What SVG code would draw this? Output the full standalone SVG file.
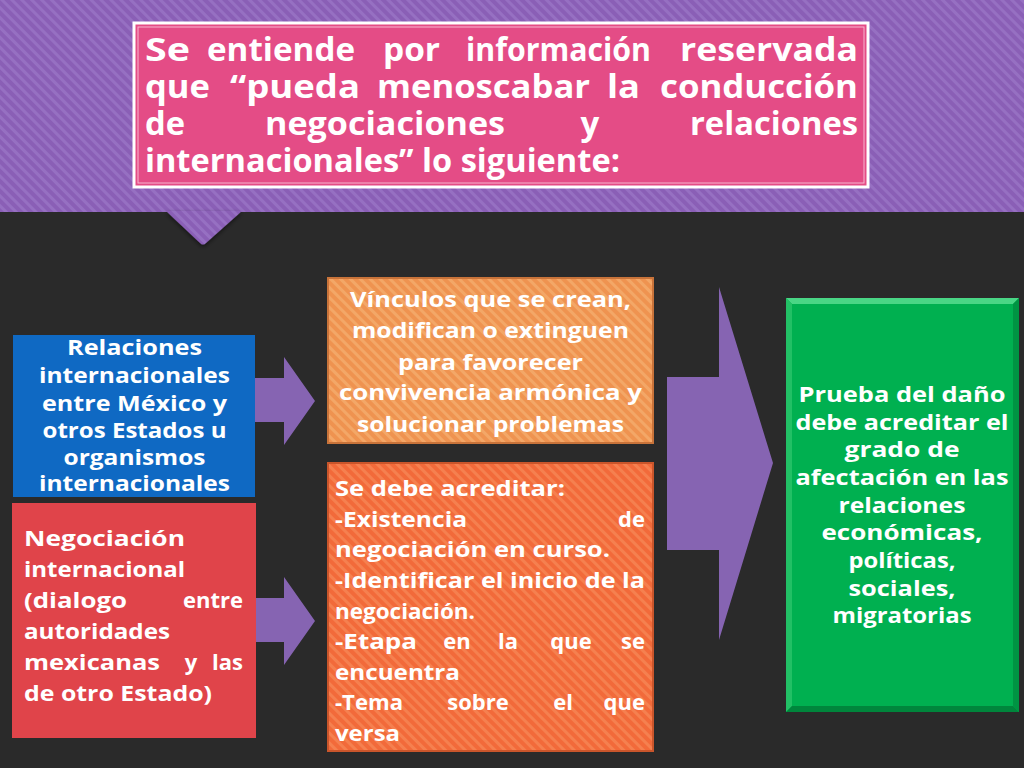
<svg xmlns="http://www.w3.org/2000/svg" width="1024" height="768" viewBox="0 0 1024 768">
<defs>
<pattern id="purpleStripes" width="7" height="7" patternUnits="userSpaceOnUse" patternTransform="rotate(-45)">
<rect width="7" height="7" fill="#8a5fb6"/>
<rect width="3" height="7" fill="#9670c2"/>
</pattern>
<pattern id="orangeStripes" width="7" height="7" patternUnits="userSpaceOnUse" patternTransform="rotate(-45)">
<rect width="7" height="7" fill="#ef9350"/>
<rect width="3" height="7" fill="#f3a767"/>
</pattern>
<pattern id="redOrangeStripes" width="7" height="7" patternUnits="userSpaceOnUse" patternTransform="rotate(-45)">
<rect width="7" height="7" fill="#f26a3a"/>
<rect width="3" height="7" fill="#f5804f"/>
</pattern>
<filter id="shadow" x="-10%" y="-10%" width="120%" height="130%">
<feDropShadow dx="0" dy="2" stdDeviation="2" flood-color="#000" flood-opacity="0.5"/>
</filter>
</defs>
<style>
text { font-family: "Open Sans", "DejaVu Sans", sans-serif; font-weight: 700; fill: #ffffff; }
.title { font-size: 33px; }
.body { font-size: 22px; }
.mid { text-anchor: middle; }
.end { text-anchor: end; }
.arrow { fill: #8664b2; }
</style>

<rect x="0" y="0" width="1024" height="768" fill="#2a2a2a"/>
<rect x="0" y="0" width="1024" height="212" fill="url(#purpleStripes)"/>

<g id="title">
<path d="M166,211 L242,211 L206,243 Q203,246 200,243 Z" fill="url(#purpleStripes)" filter="url(#shadow)"/>
<rect x="134" y="23" width="734" height="164" fill="#e44c86" stroke="#ffffff" stroke-width="3"/>
<rect x="138" y="27" width="726" height="156" fill="none" stroke="#f7b6cf" stroke-width="1"/>
<g class="title">
<text x="145" y="61" textLength="45" lengthAdjust="spacingAndGlyphs">Se</text>
<text x="207" y="61" textLength="148" lengthAdjust="spacingAndGlyphs">entiende</text>
<text x="383" y="61" textLength="57" lengthAdjust="spacingAndGlyphs">por</text>
<text x="466" y="61" textLength="185" lengthAdjust="spacingAndGlyphs">información</text>
<text x="680" y="61" textLength="178" lengthAdjust="spacingAndGlyphs">reservada</text>
<text x="145" y="98" textLength="65" lengthAdjust="spacingAndGlyphs">que</text>
<text x="230" y="98" textLength="130" lengthAdjust="spacingAndGlyphs">“pueda</text>
<text x="377" y="98" textLength="213" lengthAdjust="spacingAndGlyphs">menoscabar</text>
<text x="607" y="98" textLength="33" lengthAdjust="spacingAndGlyphs">la</text>
<text x="660" y="98" textLength="198" lengthAdjust="spacingAndGlyphs">conducción</text>
<text x="145" y="135" textLength="40" lengthAdjust="spacingAndGlyphs">de</text>
<text x="265" y="135" textLength="240" lengthAdjust="spacingAndGlyphs">negociaciones</text>
<text x="590" y="135" class="mid">y</text>
<text x="690" y="135" textLength="168" lengthAdjust="spacingAndGlyphs">relaciones</text>
<text x="145" y="172" textLength="475" lengthAdjust="spacingAndGlyphs">internacionales” lo siguiente:</text>
</g>
</g>

<g id="connectors">
<path class="arrow" d="M255,378 H284 V357 L315,401 L284,445 V422 H255 Z"/>
<path class="arrow" d="M255,598 H284 V577 L315,621 L284,665 V642 H255 Z"/>
<path class="arrow" d="M667,377 H719 V287 L773,463 L719,640 V550 H667 Z"/>
</g>

<g id="node-relaciones">
<rect x="13" y="335" width="242" height="162" fill="#0f69c3"/>
<g class="body mid">
<text x="134.5" y="355" textLength="135" lengthAdjust="spacingAndGlyphs">Relaciones</text>
<text x="134.5" y="383" textLength="191" lengthAdjust="spacingAndGlyphs">internacionales</text>
<text x="134.5" y="411" textLength="185" lengthAdjust="spacingAndGlyphs">entre México y</text>
<text x="134.5" y="438" textLength="184" lengthAdjust="spacingAndGlyphs">otros Estados u</text>
<text x="134.5" y="465" textLength="142" lengthAdjust="spacingAndGlyphs">organismos</text>
<text x="134.5" y="491" textLength="191" lengthAdjust="spacingAndGlyphs">internacionales</text>
</g>
</g>

<g id="node-negociacion">
<rect x="12" y="503" width="244" height="235" fill="#e0444a"/>
<g class="body">
<text x="24" y="546" textLength="161" lengthAdjust="spacingAndGlyphs">Negociación</text>
<text x="24" y="577" textLength="161" lengthAdjust="spacingAndGlyphs">internacional</text>
<text x="24" y="608" textLength="103" lengthAdjust="spacingAndGlyphs">(dialogo</text>
<text x="243" y="608" class="end">entre</text>
<text x="24" y="639" textLength="146" lengthAdjust="spacingAndGlyphs">autoridades</text>
<text x="24" y="670" textLength="136" lengthAdjust="spacingAndGlyphs">mexicanas</text>
<text x="191" y="670" class="mid">y</text>
<text x="243" y="670" class="end">las</text>
<text x="24" y="701" textLength="188" lengthAdjust="spacingAndGlyphs">de otro Estado)</text>
</g>
</g>

<g id="node-vinculos">
<rect x="328" y="278" width="325" height="165" fill="url(#orangeStripes)" stroke="#c8733a" stroke-width="2"/>
<g class="body mid">
<text x="490.5" y="307" textLength="281" lengthAdjust="spacingAndGlyphs">Vínculos que se crean,</text>
<text x="490.5" y="338" textLength="277" lengthAdjust="spacingAndGlyphs">modifican o extinguen</text>
<text x="490.5" y="370" textLength="185" lengthAdjust="spacingAndGlyphs">para favorecer</text>
<text x="490.5" y="400" textLength="303" lengthAdjust="spacingAndGlyphs">convivencia armónica y</text>
<text x="490.5" y="432" textLength="267" lengthAdjust="spacingAndGlyphs">solucionar problemas</text>
</g>
</g>

<g id="node-acreditar">
<rect x="328" y="463" width="325" height="288" fill="url(#redOrangeStripes)" stroke="#c9552b" stroke-width="2"/>
<g class="body">
<text x="335" y="496" textLength="230" lengthAdjust="spacingAndGlyphs">Se debe acreditar:</text>
<text x="335" y="527" textLength="132" lengthAdjust="spacingAndGlyphs">-Existencia</text>
<text x="645" y="527" class="end">de</text>
<text x="335" y="557" textLength="275" lengthAdjust="spacingAndGlyphs">negociación en curso.</text>
<text x="335" y="588" textLength="310" lengthAdjust="spacingAndGlyphs">-Identificar el inicio de la</text>
<text x="335" y="619" textLength="140" lengthAdjust="spacingAndGlyphs">negociación.</text>
<text x="335" y="649" textLength="82" lengthAdjust="spacingAndGlyphs">-Etapa</text>
<text x="457" y="649" class="mid">en</text>
<text x="508" y="649" class="mid">la</text>
<text x="571" y="649" class="mid">que</text>
<text x="645" y="649" class="end">se</text>
<text x="335" y="680" textLength="125" lengthAdjust="spacingAndGlyphs">encuentra</text>
<text x="335" y="710" textLength="68" lengthAdjust="spacingAndGlyphs">-Tema</text>
<text x="478" y="710" class="mid">sobre</text>
<text x="563" y="710" class="mid">el</text>
<text x="645" y="710" class="end">que</text>
<text x="335" y="741" textLength="65" lengthAdjust="spacingAndGlyphs">versa</text>
</g>
</g>

<g id="node-prueba">
<rect x="786" y="298" width="233" height="414" fill="#00b050"/>
<path d="M786,298 H1019 L1013,304 H792 Z" fill="#49d685"/>
<path d="M786,298 L792,304 V706 L786,712 Z" fill="#22c065"/>
<path d="M1019,298 L1013,304 V706 L1019,712 Z" fill="#009443"/>
<path d="M786,712 L792,706 H1013 L1019,712 Z" fill="#00863c"/>
<g class="body mid">
<text x="902" y="402" textLength="207" lengthAdjust="spacingAndGlyphs">Prueba del daño</text>
<text x="902" y="430" textLength="213" lengthAdjust="spacingAndGlyphs">debe acreditar el</text>
<text x="902" y="457" textLength="115" lengthAdjust="spacingAndGlyphs">grado de</text>
<text x="902" y="485" textLength="213" lengthAdjust="spacingAndGlyphs">afectación en las</text>
<text x="902" y="513" textLength="127" lengthAdjust="spacingAndGlyphs">relaciones</text>
<text x="902" y="540" textLength="161" lengthAdjust="spacingAndGlyphs">económicas,</text>
<text x="902" y="568" textLength="107" lengthAdjust="spacingAndGlyphs">políticas,</text>
<text x="902" y="596" textLength="107" lengthAdjust="spacingAndGlyphs">sociales,</text>
<text x="902" y="623" textLength="139" lengthAdjust="spacingAndGlyphs">migratorias</text>
</g>
</g>
</svg>
